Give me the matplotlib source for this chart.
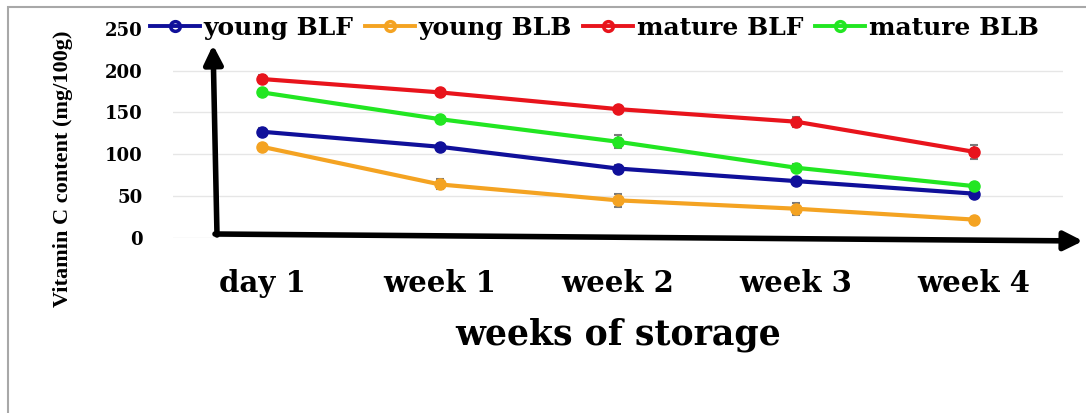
import matplotlib
matplotlib.use("Agg")
import matplotlib.pyplot as plt
import matplotlib.patches as patches
from matplotlib.lines import Line2D
import numpy as np

# Vitamin C content during storage
weeks = ["day 1", "week 1", "week 2", "week 3", "week 4"]
young_blf = [127, 109, 83, 68, 53]
young_blb = [109, 64, 45, 35, 22]
mature_blf = [190, 174, 154, 139, 103]
mature_blb = [174, 142, 115, 84, 62]
young_blf_err = [4, 3, 4, 4, 3]
young_blb_err = [3, 6, 8, 7, 3]
mature_blf_err = [5, 4, 4, 6, 8]
mature_blb_err = [4, 4, 8, 5, 4]
yticks = [0, 50, 100, 150, 200, 250]

series = [
    ("young BLF", young_blf, young_blf_err, "#10109a"),
    ("young BLB", young_blb, young_blb_err, "#f4a322"),
    ("mature BLF", mature_blf, mature_blf_err, "#e8141c"),
    ("mature BLB", mature_blb, mature_blb_err, "#22e622"),
]

W, H = 1086, 413
fig = plt.figure(figsize=(W / 100, H / 100), dpi=100)
ax = fig.add_axes([173 / W, 1 - 238 / H, 890 / W, (238 - 28.8) / H])

x = np.arange(len(weeks))
handles = []
for name, vals, err, col in series:
    ax.errorbar(x, vals, yerr=err, color=col, lw=3, marker="o", ms=8,
                mfc=col, mec=col, ecolor="#7a7a7a", elinewidth=1.5,
                capsize=3, capthick=1.5, zorder=3)
    handles.append(Line2D([], [], color=col, lw=2.8, marker="o", ms=7,
                          mfc="none", mec=col, mew=2.5, label=name))

# light gridlines, skipping the top one under the legend
for t in yticks[:-1]:
    ax.axhline(t, color="#e6e6e6", lw=1, zorder=0)

ax.set_xlim(-0.5, len(weeks) - 0.5)
ax.set_ylim(0, 250)
ax.set_yticks(yticks)
ax.set_xticks(x)
ax.set_xticklabels(weeks, fontfamily="DejaVu Serif", fontweight="bold",
                   fontsize=21)
ax.set_yticklabels([str(t) for t in yticks], fontfamily="DejaVu Serif",
                   fontweight="bold", fontsize=13)
ax.tick_params(axis="x", length=0, pad=22)
ax.tick_params(axis="y", length=0, pad=22)
for s in ax.spines.values():
    s.set_visible(False)

ax.set_xlabel("weeks of storage", fontfamily="DejaVu Serif",
              fontweight="bold", fontsize=25, labelpad=14)
ax.set_ylabel("Vitamin C content (mg/100g)", fontfamily="Liberation Serif",
              fontweight="bold", fontsize=16)
ax.yaxis.set_label_coords(-0.112, 0.33)

leg = ax.legend(handles=handles, loc="center left",
                bbox_to_anchor=(150 / W, 1 - 28 / H),
                bbox_transform=fig.transFigure, ncol=4, frameon=False,
                handlelength=2.0, handletextpad=0.15, columnspacing=0.45,
                borderaxespad=0, borderpad=0,
                prop={"family": "DejaVu Serif", "weight": "bold", "size": 18})
leg.set_zorder(5)


def fig_pt(px, py):
    return (px / W, 1 - py / H)


# hand-drawn axis arrows
arrow_kw = dict(arrowstyle="-|>", lw=4, color="black", mutation_scale=28,
                shrinkA=0, shrinkB=0)
ax.annotate("", xy=fig_pt(213, 45), xytext=fig_pt(217, 235),
            xycoords="figure fraction", textcoords="figure fraction",
            arrowprops=arrow_kw, annotation_clip=False)
ax.annotate("", xy=fig_pt(1083, 241), xytext=fig_pt(215, 234),
            xycoords="figure fraction", textcoords="figure fraction",
            arrowprops=arrow_kw, annotation_clip=False)

# outer frame
fig.add_artist(patches.Rectangle((8 / W, -0.1), 1.2, 1 - 7 / H + 0.1,
                                 transform=fig.transFigure, fill=False,
                                 edgecolor="#a8a8a8", lw=1.5))

fig.savefig("out.png", dpi=100)
